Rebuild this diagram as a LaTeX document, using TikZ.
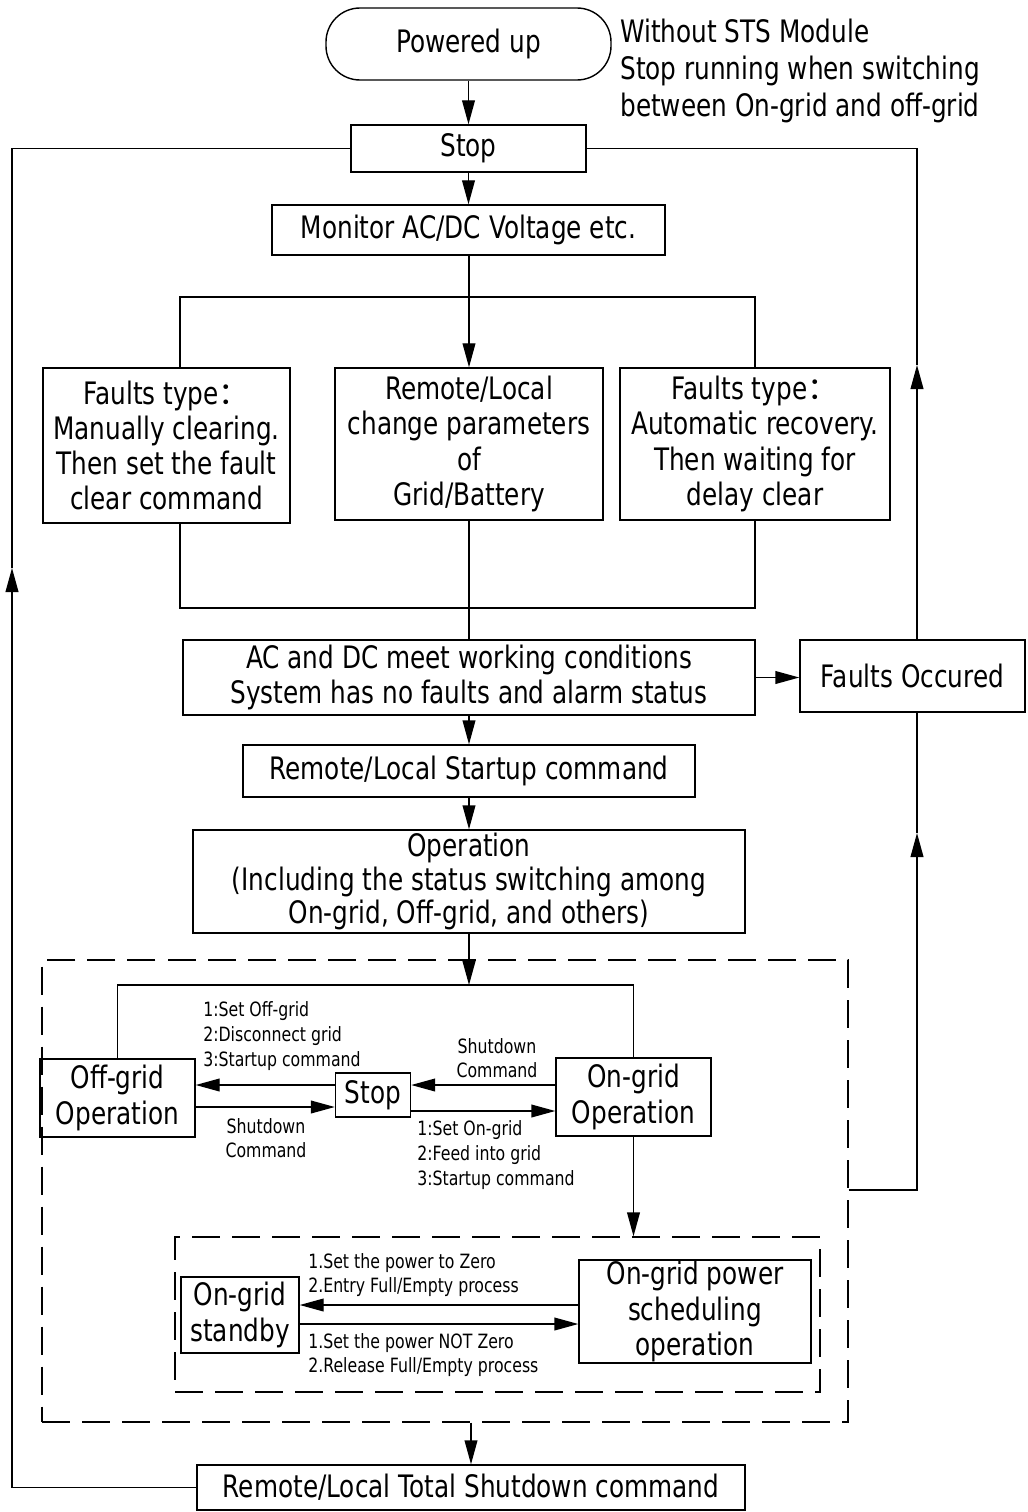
\documentclass[tikz,border=0pt]{standalone}
\usepackage{fontspec}
\setmainfont{DejaVu Sans}[FakeStretch=0.8]
\newfontfamily\cjk{Noto Sans CJK SC}
\usetikzlibrary{arrows.meta}
\tikzset{
  %% plain box, size in px of the sheet
  box/.style 2 args={rectangle, draw, line width=1pt, inner sep=0pt,
            minimum width=#1*0.025cm, minimum height=#2*0.025cm,
            align=center, font=\fontsize{22}{25}\selectfont},
  %% rounded start box
  term/.style={box={285}{72}, rounded corners=0.85cm},
  %% dashed group frame
  dbox/.style 2 args={rectangle, draw, line width=1pt, inner sep=0pt,
            dash pattern=on 0.7cm off 0.3cm,
            minimum width=#1*0.025cm, minimum height=#2*0.025cm},
  %% free texts
  note/.style={inner sep=0pt, align=left, font=\fontsize{22}{26}\selectfont},
  lbl/.style={inner sep=0pt, align=left, font=\fontsize{14}{17.5}\selectfont},
  %% arrows
  arr/.style={-{Triangle[length=0.6cm,width=0.32cm]}, line width=1pt},
  ln/.style={line width=1pt},
}
\newcommand{\fwcolon}{{\cjk\smash{：}}}
\begin{document}
\begin{tikzpicture}[x=0.025cm, y=-0.025cm]
\useasboundingbox (0,0) rectangle (1027,1512);

%% ---------- main column ----------
\node[term] (pwr) at (468.5,44) {Powered up};
\node[note, anchor=west] (note) at (620,71)
  {Without STS Module\\Stop running when switching\\between On-grid and off-grid};
\node[box={235}{47}] (stop) at (468.5,148.5) {Stop};
\node[box={393}{50}] (mon) at (468.5,230) {Monitor AC/DC Voltage etc.};

%% ---------- three branches ----------
\node[box={247}{155}] (fman)  at (166.5,445.5)
  {Faults type\fwcolon\\Manually clearing.\\Then set the fault\\clear command};
\node[box={268}{152}] (fpar)  at (469,444)
  {Remote/Local\\change parameters\\of\\Grid/Battery};
\node[box={270}{152}] (fauto) at (755,444)
  {Faults type\fwcolon\\Automatic recovery.\\Then waiting for\\delay clear};

\node[box={572}{75}] (ok) at (469,677.5)
  {AC and DC meet working conditions\\System has no faults and alarm status};
\node[box={225}{72}] (fault) at (912.5,676) {Faults Occured};
\node[box={452}{52}] (start) at (469,771) {Remote/Local Startup command};
\node[box={552}{103}, font=\fontsize{22}{24}\selectfont] (oper) at (469,881.5)
  {Operation\\(Including the status switching among\\On-grid, Off-grid, and others)};

%% ---------- operating states ----------
\node[dbox={806}{462}] (outer) at (445,1191) {};
\node[box={155}{78}] (offop) at (117.5,1098) {Off-grid\\Operation};
\node[box={75}{44}]  (stop2) at (373,1095) {Stop};
\node[box={155}{78}] (onop)  at (633.5,1097) {On-grid\\Operation};

\node[dbox={645}{155}] (inner) at (497.5,1314.5) {};
\node[box={118}{76}]  (stby)  at (240,1315) {On-grid\\standby};
\node[box={232}{103}] (sched) at (695,1311.5) {On-grid power\\scheduling\\operation};

\node[box={548}{45}] (shut) at (471,1487.5) {Remote/Local Total Shutdown command};

%% ---------- labels ----------
\node[lbl, anchor=west] (lOff) at (203,1036) {1:Set Off-grid\\2:Disconnect grid\\3:Startup command};
\node[lbl, align=center] (lShA) at (497,1058) {Shutdown\\Command};
\node[lbl, align=center] (lShB) at (266,1138) {Shutdown\\Command};
\node[lbl, anchor=west] (lOn) at (417,1155) {1:Set On-grid\\2:Feed into grid\\3:Startup command};
\node[lbl, anchor=west] (lZero) at (308,1275) {1.Set the power to Zero\\2.Entry Full/Empty process};
\node[lbl, anchor=west] (lNot) at (308,1355) {1.Set the power NOT Zero\\2.Release Full/Empty process};

%% ---------- helper points ----------
\coordinate (split) at (469,297);
\coordinate (join)  at (469,608);
\coordinate (ltop)  at (469,985);
\coordinate (lup)   at (12,568);
\coordinate (rup)   at (917,365);
\coordinate (rdn)   at (917,833);

%% ---------- connectors ----------
\draw[arr] (pwr.south) -- (stop.north);
\draw[arr] (stop.south) -- (mon.north);
\draw[arr] (mon.south -| fpar.north) -- (fpar.north);
\draw[ln] (fman.north -| 180,0) |- (split) -| (fauto.north);
\draw[ln] (fman.south -| 180,0) |- (join) -| (fauto.south);
\draw[ln] (fpar.south) -- (ok.north);
\draw[arr] (ok.east) -- (fault.west |- ok.east);
\draw[arr] (ok.south) -- (start.north);
\draw[arr] (start.south) -- (oper.north);
\draw[arr] (oper.south) -- (ltop);
\draw[ln] (offop.north) |- (ltop) -| (onop.north);

\draw[arr] (stop2.west |- 0,1085) -- (offop.east |- 0,1085);
\draw[arr] (offop.east |- 0,1107) -- (stop2.west |- 0,1107);
\draw[arr] (onop.west |- 0,1085) -- (stop2.east |- 0,1085);
\draw[arr] (stop2.east |- 0,1111) -- (onop.west |- 0,1111);
\draw[arr] (onop.south) -- (onop.south |- inner.north);

\draw[arr] (sched.west |- 0,1305) -- (stby.east |- 0,1305);
\draw[arr] (stby.east |- 0,1324) -- (sched.west |- 0,1324);

\draw[arr] (outer.south -| shut.north) -- (shut.north);

%% return to Stop on the left
\draw[arr] (shut.west) -| (lup);
\draw[ln] (lup) |- (stop.west);

%% faults loop on the right
\draw[arr] (outer.east |- 0,1190) -| (rdn);
\draw[ln] (rdn) -- (fault.south -| rdn);
\draw[arr] (fault.north -| rup) -- (rup);
\draw[ln] (rup) |- (stop.east);

\end{tikzpicture}
\end{document}
